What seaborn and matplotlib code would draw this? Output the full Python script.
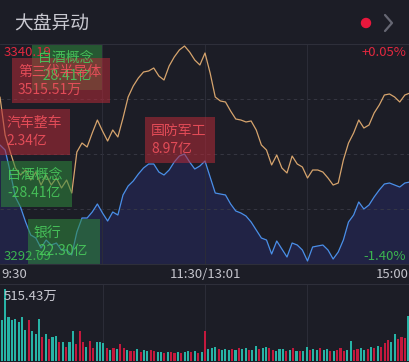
import matplotlib
matplotlib.use('Agg')
import matplotlib.pyplot as plt
import seaborn as sns
import pandas as pd
from matplotlib.patches import Rectangle, Circle

# 分时数据 (每3分钟取一点, 0 = 9:30, 240 = 15:00)
minutes = list(range(0, 241, 3))
sector_line = [3328.60, 3320.29, 3316.58, 3313.08, 3311.55, 3312.64, 3310.45, 3312.20, 3309.36, 3311.55,
               3309.36, 3310.89, 3308.71, 3310.45, 3307.61, 3316.58, 3318.54, 3317.67, 3320.73, 3323.57,
               3321.17, 3318.98, 3321.39, 3319.86, 3324.01, 3328.60, 3331.01, 3332.76, 3334.07, 3334.29,
               3334.94, 3333.19, 3332.32, 3335.38, 3337.35, 3338.88, 3339.75, 3338.44, 3336.69, 3335.60,
               3338.22, 3333.85, 3328.60, 3327.73, 3327.51, 3325.54, 3323.79, 3323.57, 3323.14, 3323.36,
               3321.39, 3318.11, 3317.01, 3313.74, 3315.92, 3313.08, 3311.99, 3315.70, 3313.95, 3313.30,
               3310.89, 3312.64, 3312.64, 3312.20, 3310.89, 3309.36, 3309.80, 3314.83, 3318.54, 3320.73,
               3323.57, 3321.82, 3322.48, 3325.10, 3326.85, 3329.04, 3329.26, 3328.60, 3327.51, 3329.04,
               3329.48]
index_line = [3318.11, 3317.01, 3312.20, 3306.74, 3304.55, 3301.27, 3298.43, 3297.77, 3295.59, 3297.34,
              3296.24, 3296.68, 3295.15, 3295.15, 3294.06, 3299.09, 3302.15, 3302.15, 3303.46, 3305.21,
              3303.24, 3301.49, 3303.46, 3302.80, 3307.18, 3309.14, 3310.24, 3311.77, 3313.08, 3313.95,
              3313.95, 3312.20, 3311.55, 3312.64, 3314.39, 3315.70, 3316.14, 3314.39, 3312.86, 3313.52,
              3314.61, 3311.11, 3307.61, 3307.39, 3307.18, 3305.21, 3303.68, 3303.24, 3302.58, 3301.27,
              3299.52, 3297.77, 3297.34, 3294.28, 3297.12, 3295.37, 3293.62, 3296.68, 3296.24, 3295.15,
              3292.75, 3295.81, 3296.03, 3296.24, 3295.15, 3293.18, 3294.71, 3297.34, 3301.27, 3302.80,
              3305.65, 3304.11, 3304.99, 3306.74, 3308.27, 3309.58, 3309.80, 3309.36, 3308.92, 3309.80,
              3310.02]

# 成交量 (万手, 每2分钟一根)
vol_minutes = list(range(0, 241, 2))
volumes = [293, 515.43, 317, 293, 301, 278, 317, 222, 293, 214,
           198, 301, 174, 198, 159, 174, 182, 135, 135, 103,
           135, 214, 119, 214, 135, 103, 143, 95, 135, 135,
           127, 95, 79, 95, 87, 119, 95, 79, 71, 71,
           87, 63, 79, 71, 79, 71, 63, 63, 56, 63,
           63, 56, 63, 56, 63, 71, 63, 71, 56, 63,
           214, 87, 95, 103, 87, 79, 87, 79, 87, 79,
           95, 87, 95, 79, 79, 111, 87, 95, 103, 95,
           79, 71, 87, 87, 71, 79, 95, 71, 71, 71,
           103, 79, 87, 79, 95, 79, 87, 71, 71, 79,
           95, 71, 79, 143, 79, 87, 95, 79, 87, 103,
           95, 111, 103, 127, 151, 135, 198, 159, 174, 167,
           325]
vol_side = ['跌', '跌', '跌', '跌', '跌', '跌', '跌', '跌', '涨', '跌',
            '跌', '跌', '涨', '跌', '涨', '跌', '跌', '涨', '跌', '涨',
            '跌', '跌', '涨', '涨', '涨', '跌', '涨', '涨', '跌', '跌',
            '跌', '涨', '跌', '涨', '跌', '涨', '涨', '跌', '涨', '涨',
            '跌', '涨', '跌', '跌', '涨', '涨', '跌', '跌', '涨', '跌',
            '涨', '涨', '跌', '涨', '跌', '跌', '涨', '跌', '涨', '跌',
            '涨', '跌', '跌', '跌', '涨', '跌', '跌', '跌', '涨', '跌',
            '涨', '跌', '跌', '涨', '跌', '跌', '涨', '跌', '跌', '涨',
            '涨', '跌', '跌', '跌', '涨', '跌', '涨', '跌', '涨', '跌',
            '跌', '涨', '跌', '跌', '涨', '跌', '跌', '涨', '跌', '涨',
            '涨', '涨', '跌', '跌', '涨', '涨', '跌', '跌', '涨', '跌',
            '涨', '跌', '涨', '涨', '涨', '跌', '跌', '涨', '涨', '涨',
            '跌']
max_vol_label = '515.43万'

price_top, price_bottom = 3340.19, 3292.09
pct_top, pct_bottom = '+0.05%', '-1.40%'
time_labels = ['9:30', '11:30/13:01', '15:00']

tag_names = ['白酒概念', '第三代半导体', '汽车整车', '白酒概念', '银行', '国防军工']
tag_amounts = ['-28.41亿', '3515.51万', '2.34亿', '-28.41亿', '-22.30亿', '8.97亿']
tag_side = ['跌', '涨', '涨', '跌', '跌', '涨']

BG = '#1c1d26'
GRID = '#2c2d38'
RED = '#e0283f'
GREEN = '#3bb34f'
W, H = 410, 362

sns.set_style('dark')
plt.rcParams['font.family'] = ['Noto Sans CJK SC', 'DejaVu Sans']

fig = plt.figure(figsize=(W / 100, H / 100), dpi=100, facecolor=BG)

# 分时图
ax = fig.add_axes([0, 1 - 264 / H, 1, 220 / H])
ax.set_facecolor(BG)
df = pd.DataFrame({'t': minutes, 'sector': sector_line, 'index': index_line})
ax.fill_between(df['t'], df['index'], price_bottom, color='#212345', lw=0, zorder=1)
sns.lineplot(data=df, x='t', y='sector', ax=ax, color='#d6a46d', lw=0.9, zorder=3)
sns.lineplot(data=df, x='t', y='index', ax=ax, color='#4a8fe8', lw=0.9, zorder=3)
ax.set_xlim(0, 240)
ax.set_ylim(price_bottom, price_top)
step = (price_top - price_bottom) / 4
for k in (1, 2, 3):
    ax.axhline(price_bottom + k * step, color='#3a3b47', lw=0.6, ls=(0, (4, 4)), zorder=2)
for m in (60, 120, 180):
    ax.axvline(m, color=GRID, lw=0.7, zorder=2)
ax.set_axis_off()

# 成交量
vax = fig.add_axes([0, 1 / H, 1, 77 / H])
vax.set_facecolor(BG)
vdf = pd.DataFrame({'t': vol_minutes, 'v': volumes, 'side': vol_side})
sns.barplot(data=vdf, x='t', y='v', hue='side', palette={'涨': '#c4193d', '跌': '#27b3a6'},
            native_scale=True, dodge=False, width=0.62, legend=False, saturation=1,
            linewidth=0, edgecolor='none', ax=vax, zorder=3)
vax.set_xlim(-1, 241)
vax.set_ylim(0, 555)
for m in (60, 120, 180):
    vax.axvline(m, color=GRID, lw=0.7, zorder=1)
vax.set_axis_off()

# 覆盖层: 标题, 标签, 异动框
ov = fig.add_axes([0, 0, 1, 1], facecolor='none')
ov.set_xlim(0, W)
ov.set_ylim(H, 0)
ov.set_axis_off()

ov.text(14, 24, '大盘异动', color='#c9c9d1', fontsize=13.5, va='center', ha='left')
ov.add_patch(Circle((366, 23), 4.5, color='#e8173c'))
ov.plot([385, 392, 385], [15, 23, 31], color='#666773', lw=1.6)
for y in (44, 264, 284):
    ov.plot([0, W], [y, y], color='#2e2f3a', lw=0.8)

ov.text(4, 52, f'{price_top:.2f}', color=RED, fontsize=9.5, va='center')
ov.text(406, 52, pct_top, color=RED, fontsize=9.5, va='center', ha='right')
ov.text(4, 256, f'{price_bottom:.2f}', color=GREEN, fontsize=9.5, va='center')
ov.text(406, 256, pct_bottom, color=GREEN, fontsize=9.5, va='center', ha='right')
ov.text(1, 274, time_labels[0], color='#c4c4cc', fontsize=9.5, va='center', ha='left')
ov.text(205, 274, time_labels[1], color='#c4c4cc', fontsize=9.5, va='center', ha='center')
ov.text(409, 274, time_labels[2], color='#c4c4cc', fontsize=9.5, va='center', ha='right')
ov.text(4, 296, max_vol_label, color='#c8c8d0', fontsize=9.5, va='center')

# 异动框: (左, 上, 宽, 高)
boxes = [(32, 44, 70, 46), (12, 58, 98, 45), (0, 109, 70, 46),
         (1, 161, 71, 46), (28, 219, 72, 46), (145, 117, 70, 46)]
for name, amt, side, (x0, y0, bw, bh) in zip(tag_names, tag_amounts, tag_side, boxes):
    fc = '#b52a38' if side == '涨' else '#2f8a3c'
    tc = '#f0505c' if side == '涨' else '#49c95c'
    ov.add_patch(Rectangle((x0, y0), bw, bh, facecolor=fc, alpha=0.55, lw=0))
    ov.text(x0 + 6, y0 + 14, name, color=tc, fontsize=10, va='center', alpha=0.9)
    ov.text(x0 + 6, y0 + 32, amt, color=tc, fontsize=10, va='center', alpha=0.9)

fig.savefig('out.png', dpi=100, facecolor=BG)
